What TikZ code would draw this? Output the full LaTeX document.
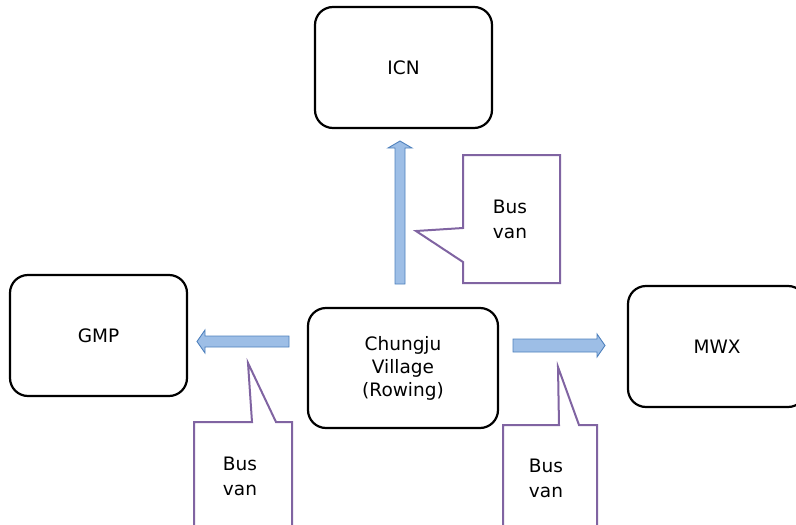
\documentclass[tikz,border=0pt]{standalone}
\usepackage{fontspec}
\setmainfont{DejaVu Sans}
\definecolor{boxline}{RGB}{0,0,0}
\definecolor{arrfill}{RGB}{157,190,230}
\definecolor{arrline}{RGB}{79,129,189}
\definecolor{callline}{RGB}{128,100,162}
\begin{document}
\begin{tikzpicture}[x=1pt,y=-1pt,
  place/.style={draw=boxline,line width=2.2pt,rounded corners=18pt,fill=white,
    align=center,font=\fontsize{18.5}{23}\selectfont,inner sep=0pt},
  blockarrow/.style={fill=arrfill,draw=arrline,line width=0.9pt,line join=miter},
  callout/.style={draw=callline,line width=2pt,fill=white,line join=miter},
  calltext/.style={align=center,font=\fontsize{18.5}{25}\selectfont,inner sep=0pt}]
\useasboundingbox (0,0) rectangle (796,525);
% places
\node[place,minimum width=177pt,minimum height=121pt] (icn) at (403.5,67.5) {ICN};
\node[place,minimum width=177pt,minimum height=121pt] (gmp) at (98.5,335.5) {GMP};
\node[place,minimum width=190pt,minimum height=120pt] (cv) at (403,368) {Chungju\\Village\\(Rowing)};
\node[place,minimum width=178pt,minimum height=121pt] (mwx) at (717,346.5) {MWX};
% block arrows
\draw[blockarrow] (395,284) -- (395,148) -- (388,148) -- (400,141) -- (412,148) -- (405,148) -- (405,284) -- cycle;
\draw[blockarrow] (289,336) -- (205,336) -- (205,330) -- (197,341.5) -- (205,353) -- (205,347) -- (289,347) -- cycle;
\draw[blockarrow] (513,339) -- (597,339) -- (597,334) -- (605,345.5) -- (597,357) -- (597,352) -- (513,352) -- cycle;
% callouts
\draw[callout] (463,155) -- (560,155) -- (560,283) -- (463,283) -- (463,262) -- (416,231) -- (463,228) -- cycle;
\node[calltext] (t1) at (510,219) {Bus\\van};
\draw[callout] (194,540) -- (194,422) -- (252,422) -- (248,363) -- (276,422) -- (292,422) -- (292,540);
\node[calltext] (t2) at (240,476) {Bus\\van};
\draw[callout] (503,540) -- (503,425) -- (559,425) -- (558,367) -- (579,425) -- (597,425) -- (597,540);
\node[calltext] (t3) at (546,478) {Bus\\van};
\end{tikzpicture}
\end{document}
